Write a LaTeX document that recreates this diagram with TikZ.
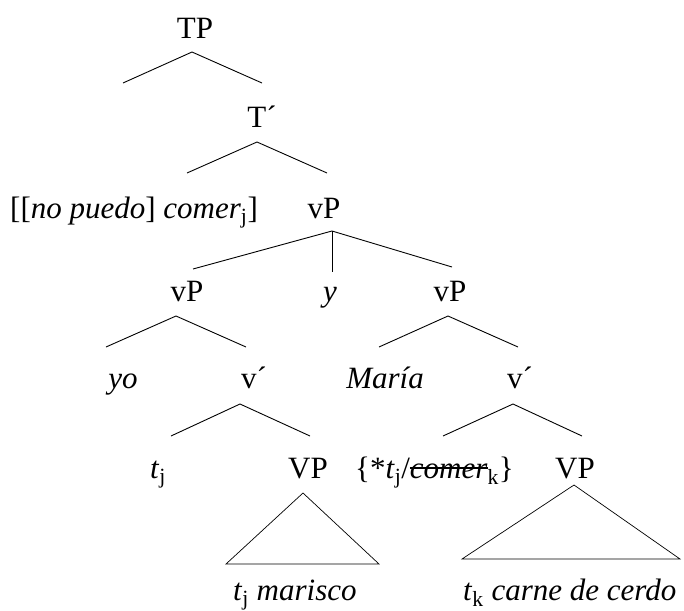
\documentclass[tikz,border=0pt]{standalone}
\usepackage{fontspec}
\setmainfont{Liberation Serif}
\newcommand\mystrike[1]{{\setbox0\hbox{#1}\rlap{\rule[0.3em]{\wd0}{0.06em}}\box0}}
\newcommand\sbs[1]{\textsubscript{\upshape #1}}
\begin{document}
\begin{tikzpicture}[x=1pt,y=-1pt,
  lbl/.style={inner sep=0pt,anchor=base,font=\fontsize{31}{36}\selectfont},
  lblw/.style={inner sep=0pt,anchor=base west,font=\fontsize{31}{36}\selectfont},
  edge/.style={line width=0.9pt}]
\useasboundingbox (0,0) rectangle (684,610);
% nodes
\node[lbl] (TP) at (195,38) {TP};
\node[lbl] (Tbar) at (262,127) {T´};
\node[lblw] (Tv) at (10,218) {[[\textit{no puedo}] \textit{comer}\sbs{j}]};
\node[lbl] (vP) at (324,218) {vP};
\node[lbl] (vP1) at (187,301) {vP};
\node[lbl] (conj) at (330,301) {\textit{y}};
\node[lbl] (vP2) at (450,301) {vP};
\node[lbl] (yo) at (123,388) {\textit{yo}};
\node[lbl] (vbar1) at (254,388) {v´};
\node[lbl] (maria) at (385,388) {\textit{María}};
\node[lbl] (vbar2) at (520,388) {v´};
\node[lblw] (tj) at (150,478) {\textit{t}\sbs{j}};
\node[lbl] (VP1) at (308,478) {VP};
\node[lblw] (alt) at (355,478) {\{*\textit{t}\sbs{j}/\mystrike{\textit{comer}}\sbs{k}\}};
\node[lbl] (VP2) at (575,478) {VP};
\node[lblw] (mar) at (233,600) {\textit{t}\sbs{j} \textit{marisco}};
\node[lblw] (carne) at (463,600) {\textit{t}\sbs{k} \textit{carne de cerdo}};
% branch coordinates
\coordinate (a1) at (192,52);  \coordinate (a1l) at (123,83);  \coordinate (a1r) at (262,83);
\coordinate (a2) at (257,142); \coordinate (a2l) at (187,173); \coordinate (a2r) at (327,173);
\coordinate (a3) at (332,231); \coordinate (a3l) at (193,269); \coordinate (a3m) at (332,272); \coordinate (a3r) at (452,267);
\coordinate (a4) at (176,316); \coordinate (a4l) at (106,347); \coordinate (a4r) at (246,347);
\coordinate (a5) at (448,316); \coordinate (a5l) at (379,347); \coordinate (a5r) at (518,347);
\coordinate (a6) at (240,404); \coordinate (a6l) at (171,436); \coordinate (a6r) at (310,436);
\coordinate (a7) at (513,404); \coordinate (a7l) at (443,436); \coordinate (a7r) at (582,436);
\coordinate (t1) at (303,493); \coordinate (t1l) at (226,564); \coordinate (t1r) at (379,564);
\coordinate (t2) at (574,485); \coordinate (t2l) at (462,559); \coordinate (t2r) at (680,559);
% edges
\draw[edge] (a1l) -- (a1) -- (a1r);
\draw[edge] (a2l) -- (a2) -- (a2r);
\draw[edge] (a3l) -- (a3) -- (a3r);
\draw[edge] (a3) -- (a3m);
\draw[edge] (a4l) -- (a4) -- (a4r);
\draw[edge] (a5l) -- (a5) -- (a5r);
\draw[edge] (a6l) -- (a6) -- (a6r);
\draw[edge] (a7l) -- (a7) -- (a7r);
\draw[line width=0.7pt] (t1) -- (t1l) -- (t1r) -- cycle;
\draw[line width=0.7pt] (t2) -- (t2l) -- (t2r) -- cycle;
\end{tikzpicture}
\end{document}
